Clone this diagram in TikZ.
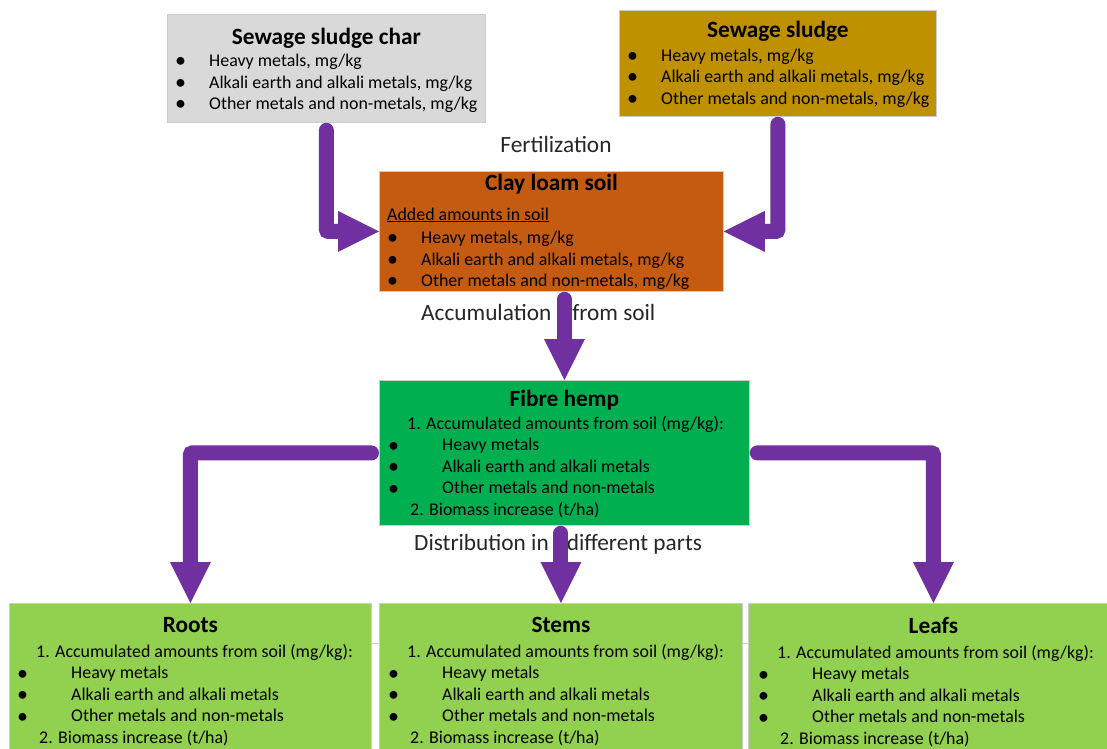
\documentclass[tikz,border=0pt]{standalone}
\usepackage{fontspec}
\setmainfont{Carlito}
\usetikzlibrary{arrows.meta,calc}

\definecolor{chargray}{HTML}{D9D9D9}
\definecolor{sludgegold}{HTML}{BF9000}
\definecolor{soilorange}{HTML}{C55A11}
\definecolor{hempgreen}{HTML}{00B050}
\definecolor{partgreen}{HTML}{92D050}
\definecolor{flowpurple}{HTML}{7030A0}

% bullet line of a list
\newcommand{\bul}[2][34pt]{\makebox[#1][l]{\raisebox{-1.2pt}{\fontsize{22}{22}\selectfont\textbullet}}#2}

% list shared by the plant boxes
\newcommand{\accumlist}{%
    \hspace*{19pt}1. Accumulated amounts from soil (mg/kg):\\
    \bul[54pt]{Heavy metals}\\
    \bul[54pt]{Alkali earth and alkali metals}\\
    \bul[54pt]{Other metals and non-metals}\\
    \hspace*{22pt}2. Biomass increase (t/ha)}

\begin{document}
\begin{tikzpicture}[
    x=1pt, y=-1pt,
    box/.style={draw=black!20, line width=0.8pt, anchor=north west, inner sep=0pt},
    boxtitle/.style={anchor=base, inner sep=0pt, font=\fontsize{23.3}{28}\selectfont\bfseries},
    boxlist/.style={anchor=north west, inner sep=0pt, align=left,
        font=\fontsize{17.9}{21.5}\selectfont},
    flowtext/.style={inner sep=0pt, text=black!85, font=\fontsize{23.3}{28}\selectfont},
    flow/.style={line width=15pt, flowpurple, line cap=round, rounded corners=2pt,
        shorten <=7.5pt, -{Triangle[length=41pt, width=41pt, line width=0pt]}}
]

\clip (0,0) rectangle (1107,748);

% ---------------- INPUTS ----------------

\node[box, fill=chargray, minimum width=318pt, minimum height=108pt] (char) at (167,14) {};
\node[boxtitle] (char-title) at ($(char.north)+(0,30)$) {Sewage sludge char};
\node[boxlist] (char-list) at ($(char.north west)+(8,40)$) {%
    \bul{Heavy metals, mg/kg}\\
    \bul{Alkali earth and alkali metals, mg/kg}\\
    \bul{Other metals and non-metals, mg/kg}};

\node[box, fill=sludgegold, minimum width=317pt, minimum height=106pt] (sludge) at (619,10) {};
\node[boxtitle] (sludge-title) at ($(sludge.north)+(0,27)$) {Sewage sludge};
\node[boxlist] (sludge-list) at ($(sludge.north west)+(8,38.5)$) {%
    \bul{Heavy metals, mg/kg}\\
    \bul{Alkali earth and alkali metals, mg/kg}\\
    \bul{Other metals and non-metals, mg/kg}};

% ---------------- SOIL ----------------

\node[box, fill=soilorange, minimum width=344pt, minimum height=120pt] (soil) at (379,171) {};
\node[boxtitle] (soil-title) at ($(soil.north)+(0,19)$) {Clay loam soil};
\node[boxlist] (soil-list) at ($(soil.north west)+(8,36.5)$) {%
    \underline{Added amounts in soil}\\[2pt]
    \bul{Heavy metals, mg/kg}\\
    \bul{Alkali earth and alkali metals, mg/kg}\\
    \bul{Other metals and non-metals, mg/kg}};

% ---------------- PLANT ----------------

\node[box, fill=hempgreen, minimum width=370pt, minimum height=145pt] (fibre) at (379,380) {};
\node[boxtitle] (fibre-title) at ($(fibre.north)+(0,26)$) {Fibre hemp};
\node[boxlist] (fibre-list) at ($(fibre.north west)+(9,36)$) {\accumlist};

% ---------------- PARTS ----------------

\draw[black!20] (372,643) -- (748,643);

\node[box, fill=partgreen, minimum width=362pt, minimum height=160pt] (roots) at (9,603) {};
\node[boxtitle] (roots-title) at ($(roots.north)+(0,29)$) {Roots};
\node[boxlist] (roots-list) at ($(roots.north west)+(8,41)$) {\accumlist};

\node[box, fill=partgreen, minimum width=363pt, minimum height=160pt] (stems) at (379,603) {};
\node[boxtitle] (stems-title) at ($(stems.north)+(0,29)$) {Stems};
\node[boxlist] (stems-list) at ($(stems.north west)+(9,41)$) {\accumlist};

\node[box, fill=partgreen, minimum width=370pt, minimum height=160pt] (leafs) at (748,603) {};
\node[boxtitle] (leafs-title) at ($(leafs.north)+(0,30)$) {Leafs};
\node[boxlist] (leafs-list) at ($(leafs.north west)+(10,42)$) {\accumlist};

% ---------------- FLOWS ----------------

\node[flowtext, anchor=base] (fert) at (556,152) {Fertilization};
\node[flowtext, anchor=base west] (accum) at (421,320) {Accumulation\hspace{21pt}from soil};
\node[flowtext, anchor=base west] (distr) at (414,550) {Distribution in\hspace{18pt}different parts};

\draw[flow] (char.south) |- (soil.west);
\draw[flow] (sludge.south) |- (soil.east);
\draw[flow] (soil.south -| fibre.north) -- (fibre.north);
\draw[flow] (fibre.west) -| (roots.north);
\draw[flow] (fibre.south -| stems.north) -- (stems.north);
\draw[flow] (fibre.east) -| (leafs.north);

\end{tikzpicture}
\end{document}
